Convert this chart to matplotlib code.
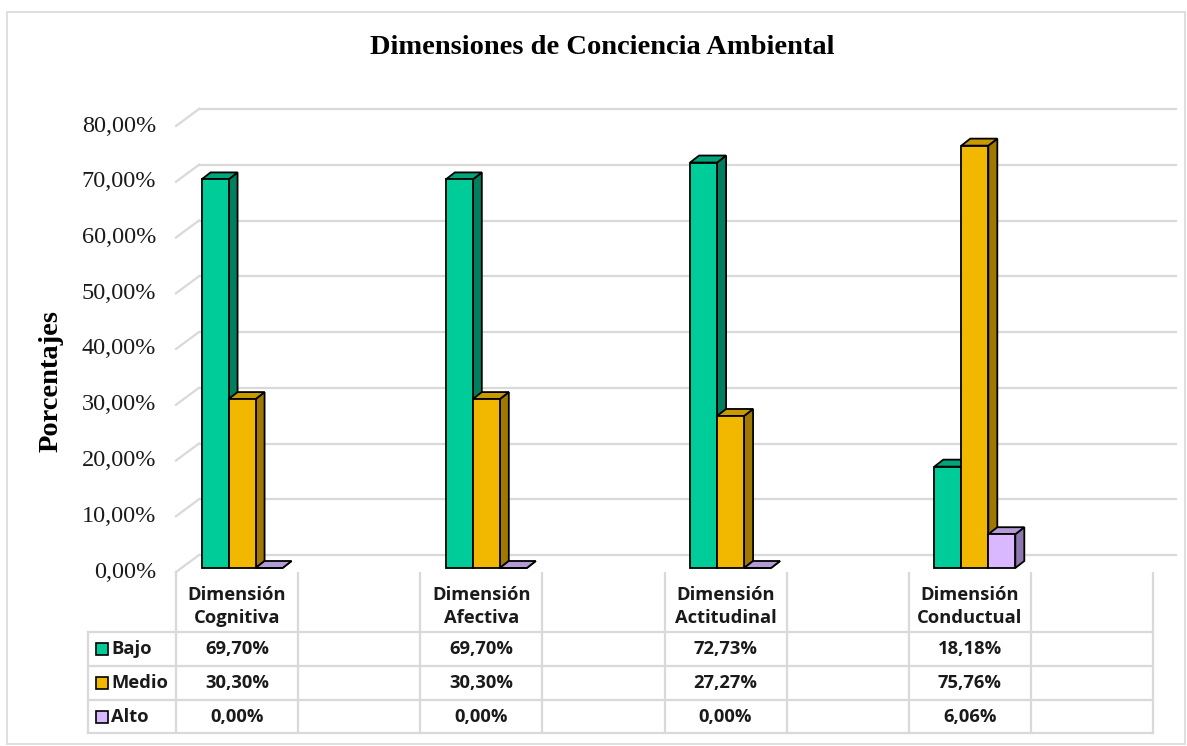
import matplotlib
matplotlib.use("Agg")
import matplotlib.pyplot as plt
from matplotlib.patches import Polygon, Rectangle
from matplotlib.lines import Line2D

# ---- data ----
categories = ["Dimensión\nCognitiva", "", "Dimensión\nAfectiva", "",
              "Dimensión\nActitudinal", "", "Dimensión\nConductual", ""]
series_names = ["Bajo", "Medio", "Alto"]
bajo = [69.70, None, 69.70, None, 72.73, None, 18.18, None]
medio = [30.30, None, 30.30, None, 27.27, None, 75.76, None]
alto = [0.00, None, 0.00, None, 0.00, None, 6.06, None]
yticks = [0, 10, 20, 30, 40, 50, 60, 70, 80]
title = "Dimensiones de Conciencia Ambiental"
ylabel = "Porcentajes"

front_colors = ["#00CC99", "#F2B800", "#D9B8FF"]
side_colors = ["#007F5F", "#A07800", "#8E78B0"]
top_colors = ["#00A57C", "#C99A00", "#B39BD6"]

W, H = 1187, 746
fig = plt.figure(figsize=(W / 100, H / 100), dpi=100)

def fx(px):
    return px / W

def fy(py):
    return 1 - py / H

# outer border
fig.add_artist(Rectangle((fx(7), fy(744)), fx(1185) - fx(7), fy(12) - fy(744),
                         transform=fig.transFigure, fill=False,
                         edgecolor="#D9D9D9", linewidth=1.2))

# ---- plot axes (front plane) ----
L, R, T, B = 176, 1153, 126, 572
ax = fig.add_axes([fx(L), fy(B), fx(R) - fx(L), fy(T) - fy(B)])
n = len(categories)
ax.set_xlim(0, n)
ax.set_ylim(0, 80)
ax.axis("off")

px_x = (R - L) / n          # pixels per slot
px_y = (B - T) / 80.0       # pixels per percent

def dx(p):
    return p / px_x

def dy(p):
    return p / px_y

# gridlines on back wall with left diagonal
gdx, gdy = 23, 17
for v in yticks:
    ax.add_line(Line2D([0, dx(gdx)], [v, v + dy(gdy)], color="#D9D9D9",
                       linewidth=1.6, clip_on=False, zorder=1))
    ax.add_line(Line2D([dx(gdx), n + dx(gdx)], [v + dy(gdy), v + dy(gdy)],
                       color="#D9D9D9", linewidth=1.6, clip_on=False, zorder=1))
    ax.text(-dx(20), v, f"{v:.2f}%".replace(".", ","), ha="right", va="center",
            family="Liberation Serif", fontsize=17.5, color="#1a1a1a")

# bars
bw = dx(27)
ox, oy = dx(5), dy(4)       # bar plane offset from front
ddx, ddy = dx(9), dy(7)     # bar depth
series = [bajo, medio, alto]
z = 3
for i in range(n):
    for s, vals in enumerate(series):
        v = vals[i]
        if v is None:
            continue
        x0 = i + 0.5 - 1.5 * bw + s * bw + ox
        y0 = oy
        y1 = oy + v
        front = Rectangle((x0, y0), bw, v, facecolor=front_colors[s],
                          edgecolor="black", linewidth=1.3, clip_on=False, zorder=z)
        side = Polygon([(x0 + bw, y0), (x0 + bw + ddx, y0 + ddy),
                        (x0 + bw + ddx, y1 + ddy), (x0 + bw, y1)],
                       closed=True, facecolor=side_colors[s], edgecolor="black",
                       linewidth=1.3, clip_on=False, zorder=z)
        top = Polygon([(x0, y1), (x0 + bw, y1), (x0 + bw + ddx, y1 + ddy),
                       (x0 + ddx, y1 + ddy)], closed=True,
                      facecolor=top_colors[s], edgecolor="black",
                      linewidth=1.3, clip_on=False, zorder=z)
        ax.add_patch(side)
        ax.add_patch(top)
        ax.add_patch(front)
        z += 1

# title and y label
fig.text(fx(602), fy(48), title, ha="center", va="center",
         family="Liberation Serif", fontweight="bold", fontsize=20.5, color="black")
fig.text(fx(51), fy(381), ylabel, ha="center", va="center", rotation=90,
         family="Liberation Serif", fontweight="bold", fontsize=20.5, color="black")

# ---- data table ----
TT, TB = 573, 733
tab = fig.add_axes([fx(L), fy(TB), fx(R) - fx(L), fy(TT) - fy(TB)])
tab.set_xlim(0, n)
tab.set_ylim(TB, TT)
tab.axis("off")
lab_left = -(L - 88) / px_x
row_edges = [632, 666, 700, 733]
gc = "#D9D9D9"
for i in range(n + 1):
    tab.add_line(Line2D([i, i], [TT, TB], color=gc, linewidth=1.6, clip_on=False))
tab.add_line(Line2D([lab_left, lab_left], [row_edges[0], TB], color=gc,
                    linewidth=1.6, clip_on=False))
for r in row_edges:
    tab.add_line(Line2D([lab_left, n], [r, r], color=gc, linewidth=1.6,
                        clip_on=False))

tfont = dict(family="Open Sans", fontweight="bold", fontsize=13.2, color="#1a1a1a")
for i, c in enumerate(categories):
    if c:
        tab.text(i + 0.5, (TT + row_edges[0]) / 2 + 4, c, ha="center", va="center",
                 linespacing=1.4, **tfont)
for s, vals in enumerate(series):
    yc = (row_edges[s] + row_edges[s + 1]) / 2
    tab.add_patch(Rectangle((lab_left + dx(8), yc - 6), dx(12), 12,
                            facecolor=front_colors[s], edgecolor="black",
                            linewidth=1.2, clip_on=False))
    tab.text(lab_left + dx(23), yc, series_names[s], ha="left", va="center", **tfont)
    for i, v in enumerate(vals):
        if v is not None:
            tab.text(i + 0.5, yc, f"{v:.2f}%".replace(".", ","), ha="center",
                     va="center", **tfont)

fig.savefig("out.png", dpi=100)
